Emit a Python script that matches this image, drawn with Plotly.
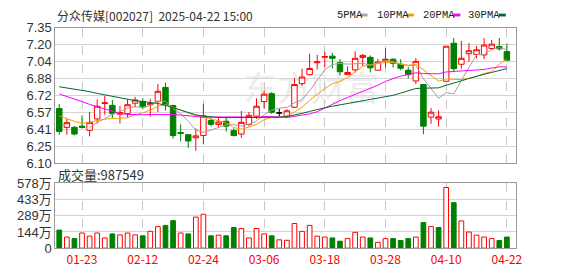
import plotly.graph_objects as go

# ---------------- data ----------------
dates = ["01-20","01-21","01-22","01-23","01-24","01-27","02-05","02-06","02-07","02-10",
         "02-11","02-12","02-13","02-14","02-17","02-18","02-19","02-20","02-21","02-24",
         "02-25","02-26","02-27","02-28","03-03","03-04","03-05","03-06","03-07","03-10",
         "03-11","03-12","03-13","03-14","03-17","03-18","03-19","03-20","03-21","03-24",
         "03-25","03-26","03-27","03-28","03-31","04-01","04-02","04-03","04-07","04-08",
         "04-09","04-10","04-11","04-14","04-15","04-16","04-17","04-18","04-21","04-22"]

open_ = [6.604,6.430,6.430,6.440,6.402,6.508,6.650,6.633,6.552,6.557,
         6.653,6.668,6.638,6.671,6.799,6.631,6.382,6.362,6.333,6.354,
         6.493,6.457,6.486,6.400,6.368,6.457,6.533,6.668,6.741,6.563,
         6.528,6.616,6.834,6.917,7.027,7.078,7.088,7.028,6.917,6.961,
         7.075,7.077,6.958,7.046,7.060,7.013,6.958,6.859,6.826,6.524,
         6.507,6.856,7.208,7.013,7.111,7.104,7.099,7.159,7.177,7.130]
high = [6.645,6.511,6.441,6.540,6.572,6.688,6.721,6.683,6.625,6.692,
        6.712,6.697,6.694,6.830,6.843,6.639,6.458,6.365,6.421,6.648,
        6.522,6.522,6.526,6.421,6.581,6.572,6.697,6.770,6.756,6.600,
        6.598,6.884,6.972,7.111,7.100,7.130,7.116,7.060,6.994,7.133,
        7.107,7.095,7.063,7.162,7.067,7.060,6.989,7.069,6.826,6.608,
        6.587,7.180,7.256,7.228,7.210,7.184,7.255,7.238,7.256,7.206]
low = [6.362,6.362,6.356,6.420,6.347,6.465,6.546,6.517,6.465,6.522,
       6.616,6.596,6.528,6.572,6.587,6.327,6.301,6.240,6.214,6.275,
       6.438,6.425,6.391,6.345,6.333,6.441,6.507,6.603,6.555,6.526,
       6.520,6.607,6.812,6.910,6.965,6.987,6.974,6.910,6.915,6.939,
       6.995,6.937,6.955,6.983,6.983,6.957,6.882,6.830,6.367,6.463,
       6.438,6.856,6.946,6.972,7.035,7.068,7.060,7.147,7.140,7.042]
close = [6.391,6.473,6.368,6.430,6.476,6.625,6.656,6.557,6.566,6.639,
         6.683,6.620,6.651,6.763,6.639,6.354,6.375,6.304,6.351,6.537,
         6.458,6.479,6.441,6.354,6.476,6.541,6.625,6.736,6.570,6.563,
         6.583,6.826,6.895,6.974,7.035,7.084,7.068,6.944,6.937,7.068,
         7.095,6.980,7.034,7.060,7.022,6.976,6.917,7.040,6.441,6.570,
         6.528,7.180,6.972,7.068,7.138,7.147,7.191,7.199,7.155,7.050]

ma5 = [None,None,None,None,6.428,6.474,6.511,6.549,6.576,6.609,
       6.620,6.613,6.632,6.671,6.671,6.605,6.556,6.487,6.405,6.384,
       6.405,6.426,6.453,6.454,6.442,6.458,6.487,6.546,6.590,6.607,
       6.615,6.656,6.687,6.768,6.863,6.963,7.011,7.021,7.014,7.020,
       7.022,7.005,7.023,7.047,7.038,7.014,7.002,7.003,6.879,6.789,
       6.699,6.752,6.738,6.864,6.977,7.101,7.103,7.149,7.166,7.148]
ma10 = [6.537,6.511,6.485,6.467,6.476,6.493,6.506,6.511,6.515,6.518,
        6.547,6.562,6.590,6.624,6.640,6.613,6.585,6.559,6.538,6.528,
        6.505,6.491,6.470,6.429,6.413,6.432,6.457,6.500,6.522,6.524,
        6.537,6.572,6.617,6.679,6.735,6.789,6.833,6.854,6.891,6.941,
        6.993,7.008,7.022,7.031,7.029,7.018,7.003,7.013,6.963,6.914,
        6.857,6.877,6.871,6.871,6.883,6.900,6.928,6.943,7.015,7.063]
ma20 = [6.738,6.716,6.694,6.668,6.642,6.620,6.598,6.576,6.559,6.550,
        6.546,6.546,6.548,6.550,6.552,6.548,6.544,6.537,6.530,6.523,
        6.526,6.527,6.530,6.526,6.526,6.522,6.521,6.530,6.530,6.526,
        6.521,6.531,6.544,6.554,6.574,6.610,6.645,6.677,6.706,6.733,
        6.765,6.790,6.819,6.855,6.882,6.904,6.918,6.934,6.927,6.927,
        6.925,6.942,6.946,6.951,6.956,6.959,6.965,6.978,6.989,6.988]
ma30 = [6.805,6.795,6.784,6.773,6.760,6.744,6.729,6.716,6.703,6.690,
        6.677,6.670,6.661,6.651,6.633,6.611,6.585,6.563,6.546,6.533,
        6.524,6.521,6.520,6.520,6.520,6.520,6.520,6.520,6.521,6.523,
        6.530,6.542,6.559,6.577,6.596,6.611,6.625,6.638,6.650,6.664,
        6.678,6.690,6.703,6.713,6.726,6.746,6.764,6.789,6.792,6.793,
        6.795,6.819,6.836,6.860,6.882,6.903,6.921,6.937,6.956,6.973]

# volume in 万
volume = [161,99,85,135,107,135,91,127,118,135,
          118,110,150,192,203,245,135,127,277,302,
          110,116,110,184,175,91,175,127,110,74,
          70,220,150,203,107,99,91,62,85,141,
          99,91,51,85,85,68,85,99,228,192,
          184,541,406,243,144,116,99,85,68,98.75]
vol_up = [0,1,0,1,1,1,1,0,1,1,
          1,0,1,1,0,0,1,0,1,1,
          0,1,0,0,1,1,1,1,0,1,
          1,1,1,1,1,1,0,0,1,1,
          1,0,1,1,0,0,0,1,0,1,
          0,1,0,1,1,1,1,1,0,0]

tick_dates = ["01-23","02-12","02-24","03-06","03-18","03-28","04-10","04-22"]
price_ticks = [6.10,6.25625,6.4125,6.56875,6.725,6.88125,7.0375,7.19375,7.35]
price_labels = ["6.10","6.25","6.41","6.57","6.72","6.88","7.04","7.20","7.35"]
vol_ticks = [0,144.5,289,433.5,578]
vol_labels = ["0","144万","289万","433万","578万"]
title_text = "分众传媒[002027] \u00a02025-04-22 15:00"
vol_text = "成交量:987549"
ma_names = ["5PMA","10PMA","20PMA","30PMA"]
ma_colors = ["#a0a0a0","#f0a000","#ff00ff","#006b2e"]

RED = "#ff0000"
GREEN = "#008000"

# ---------------- figure ----------------
W, H = 578, 276
xs = list(range(len(dates)))
tickvals = [dates.index(d) for d in tick_dates]

flat = [i for i in xs if open_[i] == close[i]]
norm = [i for i in xs if i not in flat]

fig = go.Figure()

fig.add_trace(go.Candlestick(
    x=[xs[i] for i in norm], open=[open_[i] for i in norm], high=[high[i] for i in norm],
    low=[low[i] for i in norm], close=[close[i] for i in norm],
    increasing=dict(line=dict(color=RED, width=1), fillcolor="#ffffff"),
    decreasing=dict(line=dict(color=GREEN, width=1), fillcolor=GREEN),
    whiskerwidth=0, hoverinfo="skip", xaxis="x", yaxis="y"))
if flat:
    fig.add_trace(go.Candlestick(
        x=[xs[i] for i in flat], open=[open_[i] for i in flat], high=[high[i] for i in flat],
        low=[low[i] for i in flat], close=[close[i] for i in flat],
        increasing=dict(line=dict(color="#000000", width=1), fillcolor="#000000"),
        decreasing=dict(line=dict(color="#000000", width=1), fillcolor="#000000"),
        whiskerwidth=0, hoverinfo="skip", xaxis="x", yaxis="y"))

for vals, col in zip([ma30, ma20, ma10, ma5][::-1][::-1], ma_colors[::-1]):
    pass
for vals, col in zip([ma5, ma10, ma20, ma30], ma_colors):
    fig.add_trace(go.Scatter(x=xs, y=vals, mode="lines", line=dict(color=col, width=1),
                             hoverinfo="skip", xaxis="x", yaxis="y"))

fills = [("#ffffff" if u else GREEN) for u in vol_up]
edges = [(RED if u else GREEN) for u in vol_up]
fig.add_trace(go.Bar(x=xs, y=volume, width=0.62,
                     marker=dict(color=fills, line=dict(color=edges, width=1)),
                     hoverinfo="skip", xaxis="x2", yaxis="y2"))

grid = "#d4d4d4"
border = "#9a9a9a"
xdom = [56 / W, 522 / W]
xcommon = dict(domain=xdom, range=[-0.52, 60.16], tickvals=tickvals,
               ticktext=tick_dates, showgrid=True, gridcolor="#c8c8c8", griddash="dash",
               gridwidth=1, showline=True, mirror=True, linecolor=border, linewidth=1,
               ticks="", zeroline=False, fixedrange=True)

fig.update_layout(
    width=W, height=H, margin=dict(l=0, r=0, t=0, b=0),
    paper_bgcolor="white", plot_bgcolor="white", showlegend=False,
    boxgap=0.15, boxgroupgap=0.15,
    xaxis=dict(**xcommon, anchor="y", showticklabels=False, rangeslider=dict(visible=False)),
    xaxis2=dict(**xcommon, anchor="y2", showticklabels=True,
                tickfont=dict(family="Noto Sans CJK SC", size=12, color=RED)),
    yaxis=dict(domain=[1 - 165 / H, 1 - 22 / H], range=[6.10, 7.35], tickvals=price_ticks,
               ticktext=price_labels, showgrid=True, gridcolor=grid, gridwidth=1,
               showline=True, mirror=True, linecolor=border, ticks="", zeroline=False,
               tickfont=dict(family="Liberation Sans", size=13, color="#333333"),
               fixedrange=True),
    yaxis2=dict(domain=[1 - 255 / H, 1 - 186.5 / H], range=[0, 578], tickvals=vol_ticks,
                ticktext=vol_labels, showgrid=True, gridcolor=grid, gridwidth=1,
                showline=True, mirror=True, linecolor=border, ticks="", zeroline=False,
                tickfont=dict(family="Liberation Sans, Noto Sans CJK SC", size=13, color="#333333"),
                fixedrange=True),
)

def px(x):
    return x / W

def py(y):
    return 1 - y / H

annos = [
    dict(text=title_text, x=px(56), y=py(9), xanchor="left", yanchor="middle",
         font=dict(family="Noto Sans CJK SC", size=12, color="#333333")),
    dict(text=vol_text, x=px(57), y=py(177), xanchor="left", yanchor="middle",
         font=dict(family="Noto Sans CJK SC", size=13, color="#333333")),
]
leg_x = [339, 380, 426, 472]
sw_x = [365, 412, 459, 505]
shapes = []
for name, col, lx, sx in zip(ma_names, ma_colors, leg_x, sw_x):
    annos.append(dict(text=name, x=px(lx), y=py(8.5), xanchor="left", yanchor="middle",
                      font=dict(family="Liberation Mono", size=10.5, color="#222222")))
    shapes.append(dict(type="rect", xref="paper", yref="paper", x0=px(sx), x1=px(sx + 7),
                       y0=py(10), y1=py(7), fillcolor=col, line=dict(width=0)))
for a in annos:
    a.update(xref="paper", yref="paper", showarrow=False)

shapes.append(dict(type="rect", xref="paper", yref="paper", x0=px(240), x1=px(390),
                   y0=py(108), y1=py(70), layer="below", fillcolor="rgba(0,0,0,0)",
                   line=dict(width=0),
                   label=dict(text="东方财富", textposition="middle center",
                              font=dict(family="Noto Sans CJK SC", size=34, color="#ececec"))))

fig.update_layout(annotations=annos, shapes=shapes)

fig.write_html("out.html")
